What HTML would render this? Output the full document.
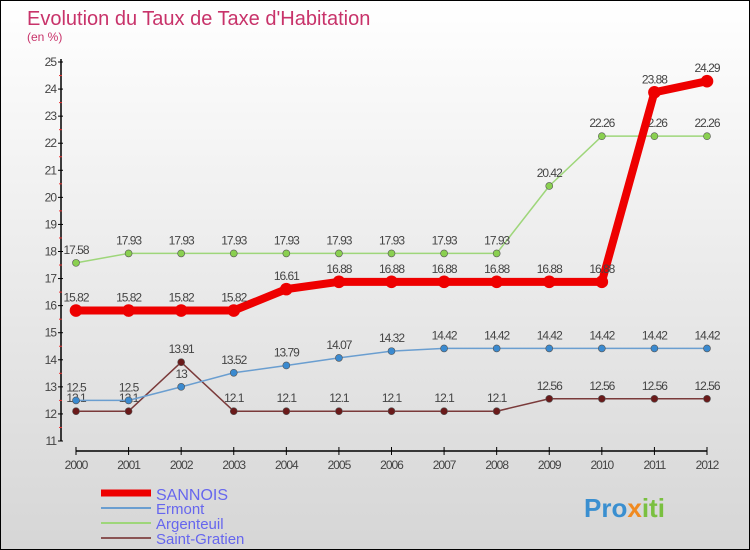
<!DOCTYPE html>
<html><head><meta charset="utf-8"><style>
body{margin:0}
#c{width:750px;height:550px;box-sizing:border-box;border:1px solid #000;background:linear-gradient(#fff,#d6d6d6);position:relative;font-family:"Liberation Sans",sans-serif}
</style></head><body>
<div id="c">
<svg id="s" width="748" height="548" style="position:absolute;left:0;top:0">
<text x="26" y="24" font-size="20" fill="#c8336a">Evolution du Taux de Taxe d'Habitation</text>
<text x="26" y="40" font-size="12" fill="#c8336a">(en %)</text>
<g id="ax"></g><g id="ser"></g>
<g>
<line x1="100" y1="492" x2="150" y2="492" stroke="#e00" stroke-width="7"/>
<text x="155" y="499" font-size="16" fill="#6666ee">SANNOIS</text>
<line x1="100" y1="507" x2="150" y2="507" stroke="#6a9ed0" stroke-width="2"/>
<text x="155" y="513" font-size="15" fill="#6666ee">Ermont</text>
<line x1="100" y1="522" x2="150" y2="522" stroke="#9ed67a" stroke-width="2"/>
<text x="155" y="528" font-size="15" fill="#6666ee">Argenteuil</text>
<line x1="100" y1="537" x2="150" y2="537" stroke="#8a5454" stroke-width="2"/>
<text x="155" y="543" font-size="15" fill="#6666ee">Saint-Gratien</text>
</g>
<text x="583" y="516" font-size="26" font-weight="bold"><tspan fill="#3a8fd0">Pro</tspan><tspan fill="#f08a20">x</tspan><tspan fill="#7ac040">iti</tspan></text>
</svg>
</div>
<script>
const years=[2000,2001,2002,2003,2004,2005,2006,2007,2008,2009,2010,2011,2012];
const yTicks=[11,12,13,14,15,16,17,18,19,20,21,22,23,24,25];
const sannois=[15.82,15.82,15.82,15.82,16.61,16.88,16.88,16.88,16.88,16.88,16.88,23.88,24.29];
const ermont=[12.5,12.5,13,13.52,13.79,14.07,14.32,14.42,14.42,14.42,14.42,14.42,14.42];
const argenteuil=[17.58,17.93,17.93,17.93,17.93,17.93,17.93,17.93,17.93,20.42,22.26,22.26,22.26];
const gratien=[12.1,12.1,13.91,12.1,12.1,12.1,12.1,12.1,12.1,12.56,12.56,12.56,12.56];
const NS="http://www.w3.org/2000/svg";
const X=i=>75+i*(706-75)/12, Y=v=>440-(v-11)*(440-61)/14;
function mk(t,a,p){const e=document.createElementNS(NS,t);for(const k in a)e.setAttribute(k,a[k]);p.appendChild(e);return e;}
const ax=document.getElementById('ax'), ser=document.getElementById('ser');
const yl=mk('line',{x1:60,y1:58,x2:60,y2:440,stroke:'#000','stroke-width':1.5},ax);


yTicks.forEach(v=>{mk('line',{x1:57,x2:62,y1:Y(v),y2:Y(v),stroke:'#000'},ax);
 if(v<25)mk('line',{x1:58,x2:61,y1:Y(v+0.5),y2:Y(v+0.5),stroke:'#e33'},ax);
 const t=mk('text',{x:55,y:Y(v)+4,'font-size':12,'text-anchor':'end',fill:'#444','letter-spacing':'-1'},ax);t.textContent=v;
 
 });
const xl=mk('line',{x1:75,y1:450,x2:706,y2:450,stroke:'#000','stroke-width':1.5},ax);


years.forEach((y,i)=>{mk('line',{x1:X(i),x2:X(i),y1:446,y2:454,stroke:'#000'},ax);
 const t=mk('text',{x:X(i),y:468,'font-size':12,'text-anchor':'middle',fill:'#444','letter-spacing':'-1'},ax);t.textContent=y;
 
 });
function series(d,col,w,r,fill,name){
 const g=mk('g',{},ser);
 
 
 mk('polyline',{points:d.map((v,i)=>X(i)+','+Y(v)).join(' '),fill:'none',stroke:col,'stroke-width':w,'stroke-linejoin':'round'},g);
 d.forEach((v,i)=>{mk('circle',{cx:X(i),cy:Y(v),r:r,fill:fill,stroke:col=='#e00'?'#e00':'#555','stroke-width':0.6},g);
  const t=mk('text',{x:X(i),y:Y(v)-9,'font-size':12,'text-anchor':'middle',fill:'#444','letter-spacing':'-1'},g);t.textContent=v;});
}
series(gratien,'#7a3a3a',1.5,3.5,'#6a1a1a','series-saint-gratien');
series(argenteuil,'#9ed67a',1.5,3.5,'#8ad050','series-argenteuil');
series(ermont,'#6a9ed0',1.5,3.5,'#3a8ad0','series-ermont');
series(sannois,'#e00',8,6,'#e00','series-sannois');
</script>
</body></html>
